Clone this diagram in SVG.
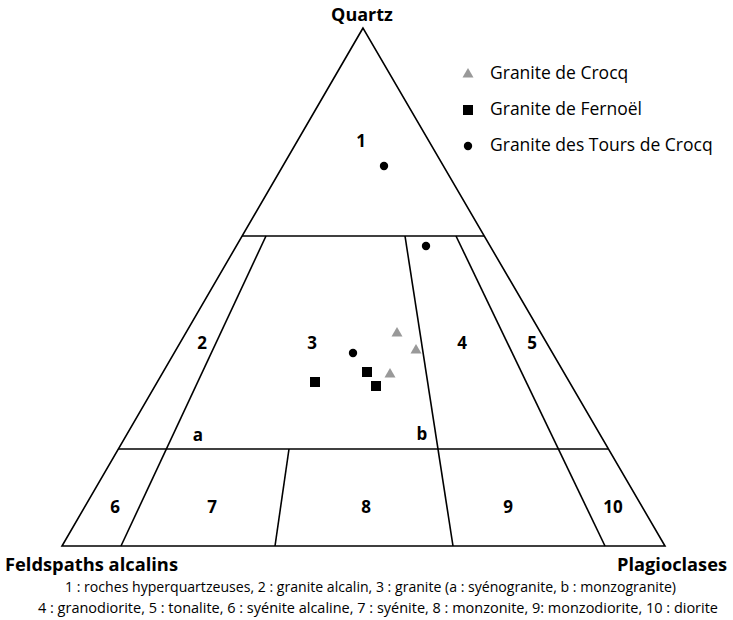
<svg xmlns="http://www.w3.org/2000/svg" xmlns:xlink="http://www.w3.org/1999/xlink" width="733" height="620" viewBox="0 0 733 620">
<style>
.ln{stroke:#000;stroke-width:1.6;fill:none;stroke-linejoin:miter}
.num{font-family:"Open Sans","Liberation Sans",sans-serif;font-weight:bold;font-size:17px;fill:#000;text-anchor:middle}
.ax{font-family:"Open Sans","Liberation Sans",sans-serif;font-weight:bold;font-size:18px;fill:#000}
.leg{font-family:"Open Sans","Liberation Sans",sans-serif;font-size:17.5px;fill:#000}
.cap{font-family:"Open Sans","Liberation Sans",sans-serif;font-size:14.5px;fill:#000}
.tri{fill:#999}
.sq{fill:#000}
.dot{fill:#000}
</style>
<defs>
<polygon id="t" class="tri" points="0,-5 5.5,4.5 -5.5,4.5"/>
<rect id="s" class="sq" x="-5" y="-5" width="10" height="10"/>
<circle id="c" class="dot" r="4.2"/>
</defs>
<rect width="733" height="620" fill="#fff"/>
<g id="connectors">
<polygon class="ln" points="363,28 62,546 665,546"/>
<line class="ln" x1="242" y1="236" x2="484" y2="236"/>
<line class="ln" x1="118" y1="449" x2="608" y2="449"/>
<line class="ln" x1="266" y1="236" x2="121" y2="546"/>
<line class="ln" x1="405" y1="236" x2="453" y2="546"/>
<line class="ln" x1="456" y1="236" x2="605" y2="546"/>
<line class="ln" x1="289" y1="449" x2="275" y2="546"/>
</g>
<g id="axis-labels">
<text class="ax" x="362" y="21" text-anchor="middle">Quartz</text>
<text class="ax" x="5" y="571" textLength="173" lengthAdjust="spacingAndGlyphs">Feldspaths alcalins</text>
<text class="ax" x="617" y="571" textLength="110" lengthAdjust="spacingAndGlyphs">Plagioclases</text>
</g>
<g id="field-labels">
<text class="num" x="361" y="147">1</text>
<text class="num" x="202" y="349">2</text>
<text class="num" x="312" y="349">3</text>
<text class="num" x="462" y="349">4</text>
<text class="num" x="532" y="349">5</text>
<text class="num" x="115" y="513">6</text>
<text class="num" x="212" y="513">7</text>
<text class="num" x="366" y="513">8</text>
<text class="num" x="508" y="513">9</text>
<text class="num" x="613" y="513">10</text>
<text class="num" x="198" y="441">a</text>
<text class="num" x="422" y="440">b</text>
</g>
<g id="points">
<use xlink:href="#c" x="384" y="166"/>
<use xlink:href="#c" x="426" y="246"/>
<use xlink:href="#c" x="353" y="353"/>
<use xlink:href="#t" x="397" y="332"/>
<use xlink:href="#t" x="416" y="349"/>
<use xlink:href="#t" x="390" y="373"/>
<use xlink:href="#s" x="315" y="382"/>
<use xlink:href="#s" x="367" y="372"/>
<use xlink:href="#s" x="376" y="386"/>
</g>
<g id="legend">
<use xlink:href="#t" x="468" y="73"/>
<text class="leg" x="490" y="79">Granite de Crocq</text>
<use xlink:href="#s" x="468" y="110"/>
<text class="leg" x="490" y="115">Granite de Fernoël</text>
<use xlink:href="#c" x="468" y="146"/>
<text class="leg" x="490" y="151">Granite des Tours de Crocq</text>
</g>
<g id="caption">
<text class="cap" x="65" y="592" textLength="611" lengthAdjust="spacingAndGlyphs">1 : roches hyperquartzeuses, 2 : granite alcalin, 3 : granite (a : syénogranite, b : monzogranite)</text>
<text class="cap" x="38" y="613" textLength="680" lengthAdjust="spacingAndGlyphs">4 : granodiorite, 5 : tonalite, 6 : syénite alcaline, 7 : syénite, 8 : monzonite, 9: monzodiorite, 10 : diorite</text>
</g>
</svg>
